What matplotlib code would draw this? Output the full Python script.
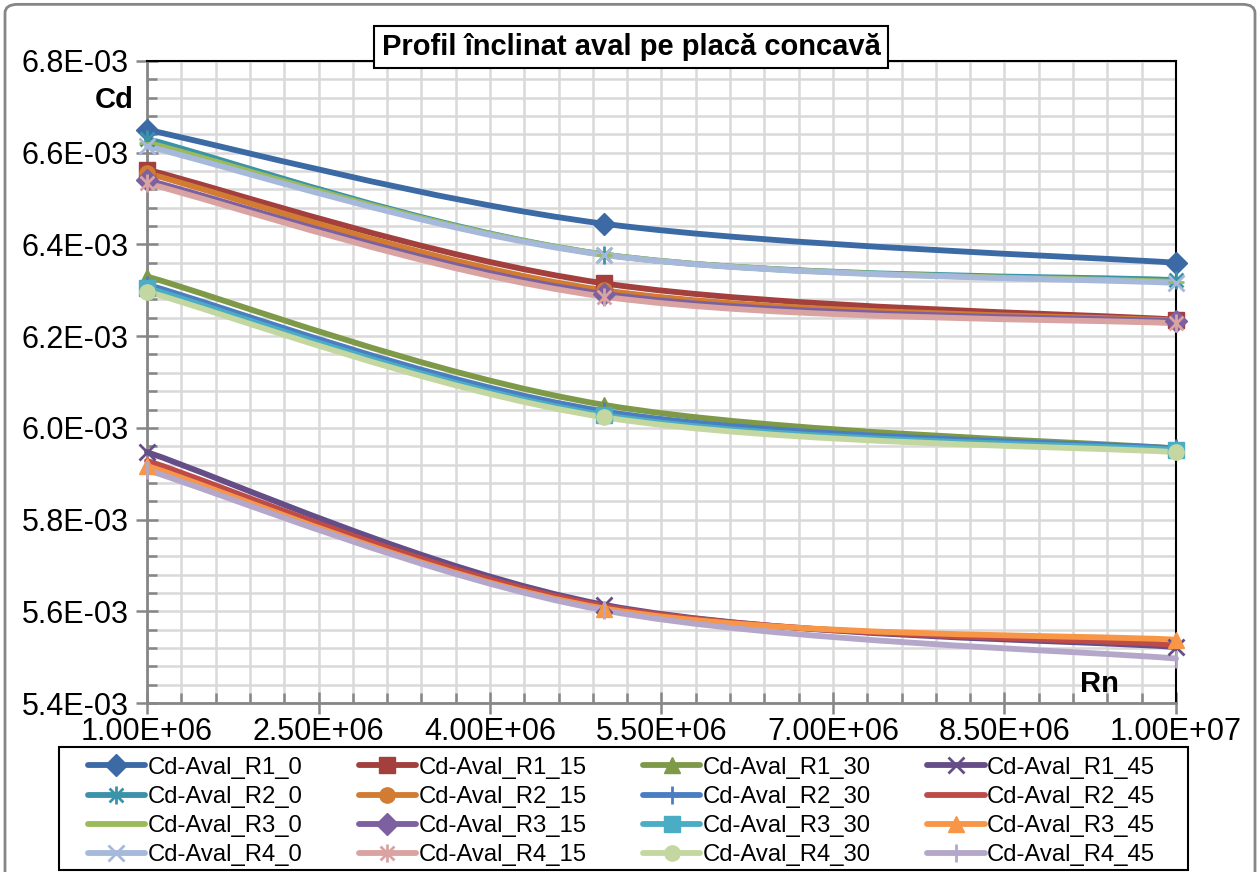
import numpy as np
import matplotlib
matplotlib.use("Agg")
import matplotlib.pyplot as plt
from matplotlib.path import Path
from matplotlib.patches import PathPatch, FancyBboxPatch, Rectangle
from matplotlib.lines import Line2D
from matplotlib.ticker import FixedLocator, MultipleLocator, FuncFormatter

plt.rcParams['font.family'] = ['Liberation Sans', 'DejaVu Sans']

# Reynolds numbers (x) and drag coefficients (y, x1e-3)
rn = [1.0e6, 5.0e6, 1.0e7]

cd_r1_0 = [6.650, 6.445, 6.360]
cd_r1_15 = [6.563, 6.315, 6.236]
cd_r1_30 = [6.330, 6.050, 5.955]
cd_r1_45 = [5.947, 5.614, 5.522]
cd_r2_0 = [6.630, 6.378, 6.322]
cd_r2_15 = [6.555, 6.300, 6.234]
cd_r2_30 = [6.312, 6.036, 5.955]
cd_r2_45 = [5.928, 5.611, 5.527]
cd_r3_0 = [6.622, 6.378, 6.318]
cd_r3_15 = [6.540, 6.292, 6.232]
cd_r3_30 = [6.305, 6.028, 5.952]
cd_r3_45 = [5.917, 5.606, 5.538]
cd_r4_0 = [6.614, 6.377, 6.316]
cd_r4_15 = [6.533, 6.286, 6.228]
cd_r4_30 = [6.297, 6.023, 5.947]
cd_r4_45 = [5.908, 5.602, 5.497]

labels = ['Cd-Aval_R1_0', 'Cd-Aval_R1_15', 'Cd-Aval_R1_30', 'Cd-Aval_R1_45',
          'Cd-Aval_R2_0', 'Cd-Aval_R2_15', 'Cd-Aval_R2_30', 'Cd-Aval_R2_45',
          'Cd-Aval_R3_0', 'Cd-Aval_R3_15', 'Cd-Aval_R3_30', 'Cd-Aval_R3_45',
          'Cd-Aval_R4_0', 'Cd-Aval_R4_15', 'Cd-Aval_R4_30', 'Cd-Aval_R4_45']
series = [cd_r1_0, cd_r1_15, cd_r1_30, cd_r1_45,
          cd_r2_0, cd_r2_15, cd_r2_30, cd_r2_45,
          cd_r3_0, cd_r3_15, cd_r3_30, cd_r3_45,
          cd_r4_0, cd_r4_15, cd_r4_30, cd_r4_45]

colors = ['#3C6AA5', '#A33F3C', '#7E9A48', '#654E87',
          '#3A93A9', '#D27B33', '#4A7EC0', '#BE4B48',
          '#9BBB59', '#7D60A0', '#4BACC6', '#F79646',
          '#A6B9DA', '#D9A3A2', '#C4D7A0', '#B4A7CA']

# excel style asterisk marker (x plus vertical bar)
star = Path([(-1, -1), (1, 1), (-1, 1), (1, -1), (0, -1.3), (0, 1.3)],
            [Path.MOVETO, Path.LINETO, Path.MOVETO, Path.LINETO, Path.MOVETO, Path.LINETO])
vbar = Path([(0, -1), (0, 1)], [Path.MOVETO, Path.LINETO])
markers = ['D', 's', '^', 'x', star, 'o', vbar, None,
           '_', 'D', 's', '^', 'x', star, 'o', vbar]


def smooth_path(xs, ys):
    # catmull-rom style bezier, like excel "smoothed line"
    p = np.column_stack([xs, ys]).astype(float)
    n = len(p)
    verts = [p[0]]
    codes = [Path.MOVETO]
    for i in range(n - 1):
        p0 = p[i - 1] if i > 0 else p[i]
        p3 = p[i + 2] if i + 2 < n else p[i + 1]
        c1 = p[i] + (p[i + 1] - p0) / 6.0
        c2 = p[i + 1] - (p3 - p[i]) / 6.0
        verts += [c1, c2, p[i + 1]]
        codes += [Path.CURVE4] * 3
    return Path(verts, codes)


fig = plt.figure(figsize=(12.6, 8.72), dpi=100)
ax = fig.add_axes([147 / 1260, 1 - 703 / 872, (1176 - 147) / 1260, (703 - 61) / 872])

handles = []
for vals, lab, col, mk in zip(series, labels, colors, markers):
    y = np.array(vals) * 1e-3
    ax.add_patch(PathPatch(smooth_path(rn, y), fill=False, edgecolor=col, lw=4.2,
                           capstyle='round', joinstyle='round', zorder=3, clip_on=False))
    is_line_marker = mk in ('x', '_') or isinstance(mk, Path)
    mew = 2 if is_line_marker else 1
    ms = 13 if isinstance(mk, Path) else 11
    if mk is not None:
        ax.plot(rn, y, ls='none', marker=mk, ms=ms, color=col, mec=col, mew=mew, zorder=4,
                clip_on=False)
    handles.append(Line2D([], [], color=col, lw=4.2, marker=mk, ms=ms, mec=col, mew=mew,
                          solid_capstyle='round'))

ax.set_xlim(1e6, 1e7)
ax.set_ylim(5.4e-3, 6.8e-3)
ax.xaxis.set_major_locator(FixedLocator(np.arange(1e6, 1e7 + 1, 1.5e6)))
ax.xaxis.set_minor_locator(FixedLocator(np.arange(1e6, 1e7 + 1, 3e5)))
ax.yaxis.set_major_locator(MultipleLocator(2e-4))
ax.yaxis.set_minor_locator(MultipleLocator(4e-5))
ax.xaxis.set_major_formatter(FuncFormatter(lambda v, p: f"{v:.2E}"))
ax.yaxis.set_major_formatter(FuncFormatter(lambda v, p: f"{v:.1E}"))
ax.grid(True, which='both', color='#D9D9D9', lw=1.8, zorder=0)
ax.set_axisbelow(True)

ax.tick_params(axis='both', which='major', direction='inout', length=16, width=1.8,
               color='#868686', labelsize=22)
ax.tick_params(axis='both', which='minor', direction='in', length=7, width=1.8,
               color='#868686')
ax.tick_params(axis='x', which='major', pad=2)
ax.tick_params(axis='y', which='major', pad=5)
for s in ('left', 'bottom'):
    ax.spines[s].set_color('#868686')
    ax.spines[s].set_linewidth(2)
for s in ('top', 'right'):
    ax.spines[s].set_color('black')
    ax.spines[s].set_linewidth(1.5)

fig.text(631 / 1260, 1 - 47 / 872, 'Profil înclinat aval pe placă concavă', ha='center',
         va='center', fontsize=21, fontweight='bold',
         bbox=dict(boxstyle='square,pad=0.25', facecolor='white', edgecolor='black', lw=1.5))
fig.text(95 / 1260, 1 - 100 / 872, 'Cd', ha='left', va='center', fontsize=21, fontweight='bold')
fig.text(1080 / 1260, 1 - 684 / 872, 'Rn', ha='left', va='center', fontsize=21, fontweight='bold')

# legend frame drawn separately so the entries can sit like excel's
fig.patches.append(Rectangle((59 / 1260, 1 - 870 / 872), 1129 / 1260, 123 / 872,
                             transform=fig.transFigure, fill=False, edgecolor='black', lw=1.5))
order = [0, 4, 8, 12, 1, 5, 9, 13, 2, 6, 10, 14, 3, 7, 11, 15]
leg = fig.legend([handles[i] for i in order], [labels[i] for i in order], ncol=4,
                 loc='upper left', bbox_to_anchor=(83 / 1260, 1 - 752 / 872, 1077 / 1260, 0),
                 mode='expand', handlelength=2.4, handletextpad=0.1,
                 prop={'size': 17.2},
                 columnspacing=1.0, labelspacing=0.3, borderpad=0.2, frameon=False,
                 borderaxespad=0)

# outer chart border
fig.patches.append(FancyBboxPatch((5 / 1260, -0.05), 1250 / 1260, 1.045, transform=fig.transFigure,
                                  boxstyle='round,pad=0,rounding_size=0.01', fill=False,
                                  edgecolor='#868686', lw=2))

fig.savefig('out.png', dpi=100)
